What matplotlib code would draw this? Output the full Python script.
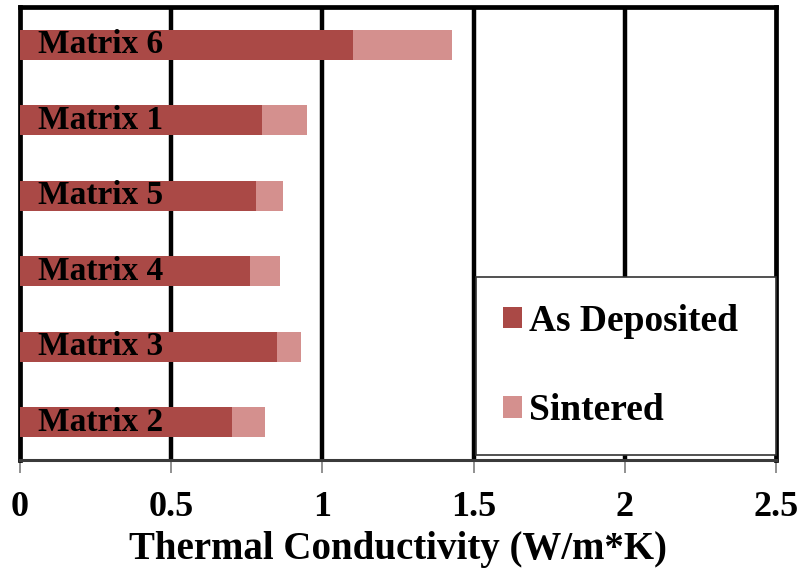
import numpy as np
import matplotlib
matplotlib.use("Agg")
from matplotlib import pyplot as plt

plt.rcParams['font.family'] = ['Liberation Serif', 'DejaVu Serif']
plt.rcParams['font.weight'] = 'bold'

# categories from bottom to top
samples = ['Matrix 2', 'Matrix 3', 'Matrix 4', 'Matrix 5', 'Matrix 1', 'Matrix 6']
as_deposited = [0.70, 0.85, 0.76, 0.78, 0.80, 1.10]
sintered = [0.11, 0.08, 0.10, 0.09, 0.15, 0.33]  # stacked on top of as deposited
xticks = [0, 0.5, 1, 1.5, 2, 2.5]
xtick_labels = ['0', '0.5', '1', '1.5', '2', '2.5']

dark = '#AA4946'
light = '#D4908E'

fig = plt.figure(figsize=(8.06, 5.86), dpi=100)
ax = fig.add_axes([0.0248, 0.215, 0.938, 0.773])

y = np.arange(len(samples))
ax.barh(y, as_deposited, height=0.4, color=dark, label='As Deposited', zorder=3)
ax.barh(y, sintered, left=as_deposited, height=0.4, color=light, label='Sintered', zorder=3)

for i, name in enumerate(samples):
    ax.text(0.06, i, name, va='center', ha='left', fontsize=24, fontweight='bold', zorder=4)

ax.set_xlim(0, 2.5)
ax.set_ylim(-0.5, 5.5)
ax.set_xticks(xticks)
ax.set_xticklabels(xtick_labels, fontsize=26, fontweight='bold')
ax.set_yticks([])

for xv in xticks[1:-1]:
    ax.axvline(xv, color='black', lw=3.2, zorder=1)

for side in ['left', 'top', 'right']:
    ax.spines[side].set_color('black')
    ax.spines[side].set_linewidth(3.4)
ax.spines['bottom'].set_color('#3a3a3a')
ax.spines['bottom'].set_linewidth(2.2)
ax.tick_params(axis='x', direction='out', length=9, width=1.3, color='#888888', pad=13)

ax.set_xlabel('Thermal Conductivity (W/m*K)', fontsize=28, fontweight='bold', labelpad=5)

leg = ax.legend(loc='upper left', bbox_to_anchor=(0.603, 0.007, 0.397, 0.397), mode='expand',
                fontsize=27, frameon=True, fancybox=False, handlelength=0.5, handleheight=0.5,
                handletextpad=0.2, labelspacing=1.45, borderaxespad=0.0, borderpad=0.72)
leg.get_frame().set_edgecolor('#333333')
leg.get_frame().set_linewidth(1.2)
leg.get_frame().set_alpha(1)
leg.set_zorder(5)

fig.savefig('out.png', dpi=100)
